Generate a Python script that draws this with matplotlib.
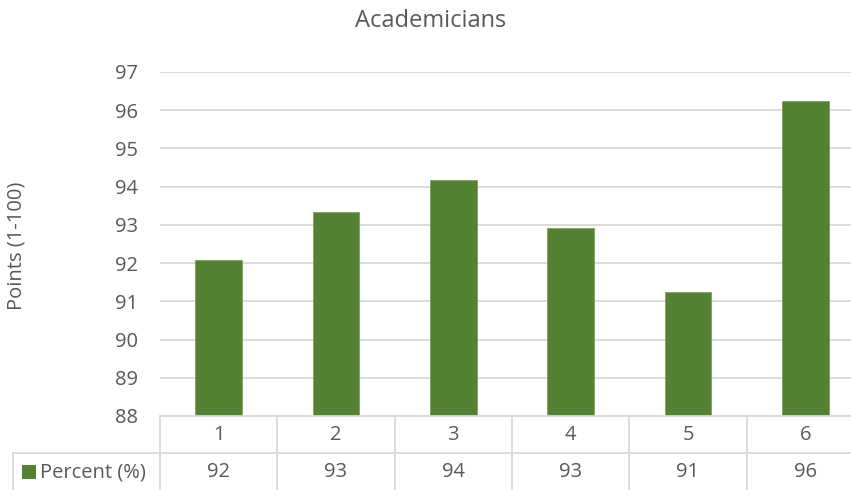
import matplotlib
matplotlib.use("Agg")
import matplotlib.pyplot as plt
from matplotlib.patches import Rectangle

categories = ["1", "2", "3", "4", "5", "6"]
values = [92.08, 93.33, 94.17, 92.92, 91.25, 96.25]
table_labels = ["92", "93", "94", "93", "91", "96"]
series_name = "Percent (%)"
title = "Academicians"
ylabel = "Points (1-100)"
yticks = [88, 89, 90, 91, 92, 93, 94, 95, 96, 97]

BAR = "#548235"
TXT = "#595959"
GRID = "#D9D9D9"
FONT = ["Open Sans", "DejaVu Sans"]
plt.rcParams["font.family"] = FONT
FS = 14.5

W, H = 851, 490
fig = plt.figure(figsize=(W / 100, H / 100), dpi=100)
L, R, T, B = 160, 864, 72, 416
ax = fig.add_axes([L / W, 1 - B / H, (R - L) / W, (B - T) / H])

x = list(range(len(categories)))
ax.bar(x, values, width=0.4, color=BAR, edgecolor="#7FA15E", linewidth=0.6, zorder=3)
ax.set_xlim(-0.5, len(categories) - 0.5)
ax.set_ylim(min(yticks), max(yticks))
ax.set_yticks(yticks)
ax.set_xticks([])
ax.tick_params(axis="y", length=0, pad=16, labelsize=FS, labelcolor=TXT)
ax.grid(axis="y", color=GRID, linewidth=1.3, zorder=0)
for s in ax.spines.values():
    s.set_visible(False)

# data table below plot
tr = ax.get_xaxis_transform()
px = (R - L) / len(categories)  # pixels per category
ah = B - T
y_mid = -(453 - B) / ah
y_bot = -(500 - B) / ah
x_left = -0.5 - (L - 13) / px
lw = 1.3
ax.plot([-0.5, len(categories) - 0.5], [0, 0], transform=tr, color=GRID, lw=lw, clip_on=False, zorder=4)
ax.plot([x_left, len(categories) - 0.5], [y_mid, y_mid], transform=tr, color=GRID, lw=lw, clip_on=False)
for i in range(len(categories) + 1):
    ax.plot([i - 0.5, i - 0.5], [0, y_bot], transform=tr, color=GRID, lw=lw, clip_on=False)
ax.plot([x_left, x_left], [y_mid, y_bot], transform=tr, color=GRID, lw=lw, clip_on=False)

r1 = -((416 + 453) / 2 - B) / ah
r2 = -(472 - B) / ah
for i, (c, t) in enumerate(zip(categories, table_labels)):
    ax.text(i, r1, c, transform=tr, ha="center", va="center", fontsize=FS, color=TXT)
    ax.text(i, r2, t, transform=tr, ha="center", va="center", fontsize=FS, color=TXT)

# legend key in table
fig.patches.append(Rectangle((22 / W, 1 - 479 / H), 14 / W, 14 / H, transform=fig.transFigure,
                             facecolor=BAR, edgecolor="none"))
fig.text(40 / W, 1 - 472 / H, series_name, ha="left", va="center", fontsize=FS, color=TXT)

fig.text(431 / W, 1 - 21 / H, title, ha="center", va="center", fontsize=17, color=TXT)
fig.text(17 / W, 1 - 246 / H, ylabel, ha="center", va="center", rotation=90, fontsize=FS, color=TXT)

fig.savefig("out.png", dpi=100)
